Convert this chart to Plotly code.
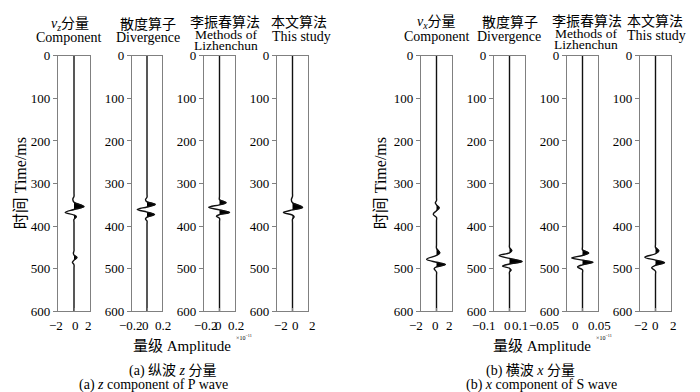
import plotly.graph_objects as go

# ---------------- data ----------------
time_ticks = [0, 100, 200, 300, 400, 500, 600]

# (a) P wave, z component
pz_comp_t = [0, 322, 330, 337, 344, 354, 361, 368, 374, 378, 384, 392, 450, 458, 464, 468, 474, 480, 485, 491, 499, 600]
pz_comp_v = [0, 0, 0, -0.15, 0, 1.25, 0, -1.1, 0, 0.3, 0, 0, 0, 0, -0.08, 0, 0.37, 0, -0.2, 0, 0, 0]

pz_div_t = [0, 324, 332, 338, 343, 349, 355, 361, 367, 373, 379, 383, 388, 396, 600]
pz_div_v = [0, 0, 0, -0.02, 0, 0.11, 0, -0.13, 0, 0.10, 0, -0.02, 0, 0, 0]

pz_li_t = [0, 330, 338, 345, 350, 356, 362, 368, 373, 377, 382, 390, 600]
pz_li_v = [0, 0, 0, 0.086, 0, -0.14, 0, 0.13, 0, -0.04, 0, 0, 0]

pz_this_t = [0, 322, 330, 338, 345, 356, 362, 368, 374, 378, 384, 392, 600]
pz_this_v = [0, 0, 0, -0.15, 0, 1.3, 0, -1.17, 0, 0.2, 0, 0, 0]

# (b) S wave, x component
sx_comp_t = [0, 332, 340, 345, 350, 357, 364, 372, 380, 388, 444, 452, 463, 469, 478, 485, 490, 496, 500, 508, 516, 600]
sx_comp_v = [0, 0, 0, -0.15, 0, 0.35, 0, -0.42, 0, 0, 0, 0, 0.43, 0, -1.28, 0, 1.15, 0, -0.3, 0, 0, 0]

sx_div_t = [0, 442, 450, 458, 463, 469, 476, 483, 489, 494, 499, 503, 508, 516, 600]
sx_div_v = [0, 0, 0, 0.015, 0, -0.067, 0, 0.082, 0, -0.045, 0, 0.01, 0, 0, 0]

sx_li_t = [0, 448, 456, 463, 469, 475, 480, 485, 491, 496, 503, 511, 600]
sx_li_v = [0, 0, 0, 0.02, 0, -0.035, 0, 0.034, 0, -0.016, 0, 0, 0]

sx_this_t = [0, 442, 450, 458, 465, 473, 480, 486, 492, 498, 506, 514, 600]
sx_this_v = [0, 0, 0, 0.43, 0, -1.37, 0, 1.16, 0, -0.5, 0, 0, 0]

# amplitude axis ticks per panel (limits = outer ticks)
amp_ticks = [[-2, 0, 2], [-0.2, 0, 0.2], [-0.2, 0, 0.2], [-2, 0, 2],
             [-2, 0, 2], [-0.1, 0, 0.1], [-0.05, 0, 0.05], [-2, 0, 2]]

series_t = [pz_comp_t, pz_div_t, pz_li_t, pz_this_t, sx_comp_t, sx_div_t, sx_li_t, sx_this_t]
series_v = [pz_comp_v, pz_div_v, pz_li_v, pz_this_v, sx_comp_v, sx_div_v, sx_li_v, sx_this_v]

# ---------------- layout ----------------
W, H = 700, 392
panel_px = [(50, 82), (124, 154), (196, 227), (269, 300),
            (413, 444), (486, 517), (559, 590), (632, 663)]
top_px, bot_px = 42.5, 308
# horizontal nudges of the amplitude tick labels (px), as laid out in the original
label_shift = [[-2.5, 1, -1.5], [-0.5, -1.5, 1], [1.5, -1.5, 0.5], [4, 3, 4],
               [-5, -1, -3], [-10, -2, -5], [-23, -7.5, 1], [0.5, -0.5, 2.5]]

FONT = "Liberation Serif, Noto Sans CJK SC, serif"

def fx(px):
    return px / W

def fy(py):
    return 1 - py / H

def fmt(v):
    s = f"{abs(v):g}"
    return ("\u2212" + s) if v < 0 else s

fig = go.Figure()
layout = {}
ann = []
for i, (t, v) in enumerate(zip(series_t, series_v)):
    n = "" if i == 0 else str(i + 1)
    xa, ya = "x" + n, "y" + n
    # positive lobes (filled black)
    ft, fv = [], []
    for k in range(1, len(v) - 1):
        if v[k] > 0:
            ft += [t[k - 1], t[k], t[k + 1], None]
            fv += [max(v[k - 1], 0), v[k], max(v[k + 1], 0), None]
    fig.add_trace(go.Scatter(x=fv, y=ft, xaxis=xa, yaxis=ya, mode="lines",
                             line=dict(color="black", width=0.5, shape="spline"),
                             fill="tozerox", fillcolor="black",
                             showlegend=False, hoverinfo="skip"))
    fig.add_trace(go.Scatter(x=v, y=t, xaxis=xa, yaxis=ya, mode="lines",
                             line=dict(color="#111111", width=1.4, shape="spline"),
                             showlegend=False))
    ticks = amp_ticks[i]
    x0, x1 = panel_px[i]
    layout["xaxis" + n] = dict(
        domain=[fx(x0), fx(x1)], range=[ticks[0], ticks[-1]], anchor=ya,
        tickvals=ticks, showticklabels=False, ticks="inside", ticklen=3,
        tickcolor="#808080", showline=True, linecolor="#808080", linewidth=1.4,
        mirror=True, showgrid=False, zeroline=False, fixedrange=True)
    layout["yaxis" + n] = dict(
        domain=[fy(bot_px), fy(top_px)], range=[600, 0], anchor=xa,
        tickvals=time_ticks, ticks="outside", ticklen=4, tickcolor="#808080",
        showline=True, linecolor="#808080", linewidth=1.4, mirror=True,
        showgrid=False, zeroline=False,
        tickfont=dict(family=FONT, size=13, color="black"), fixedrange=True)
    for tv, sh in zip(ticks, label_shift[i]):
        ann.append(dict(text=fmt(tv), x=tv, xref=xa, y=fy(323), yref="paper",
                        xshift=sh, showarrow=False, xanchor="center", yanchor="middle",
                        font=dict(family=FONT, size=13, color="black")))

def A(text, x, y, size=14, angle=0, xanchor="center"):
    ann.append(dict(text=text, x=fx(x), y=fy(y), xref="paper", yref="paper",
                    showarrow=False, xanchor=xanchor, yanchor="middle",
                    textangle=angle, font=dict(family=FONT, size=size, color="black")))

# headers (a)
A("<i>v</i><sub><i>z</i></sub>分量", 62, 10)
A("Component", 60, 23)
A("散度算子", 140, 10)
A("Divergence", 140, 23)
A("李振春算法", 217, 8)
A("Methods of", 218, 20, size=13.5)
A("Lizhenchun", 218, 32, size=13.5)
A("本文算法", 291, 8)
A("This study", 293, 22)
# headers (b)
A("<i>v</i><sub><i>x</i></sub>分量", 428, 8)
A("Component", 428, 22)
A("散度算子", 502, 8)
A("Divergence", 501, 22)
A("李振春算法", 579, 7)
A("Methods of", 578, 19, size=13.5)
A("Lizhenchun", 578, 31, size=13.5)
A("本文算法", 647, 7)
A("This study", 648, 21)

# y titles
A("时间 Time/ms", 12, 175, size=16, angle=-90)
A("时间 Time/ms", 372, 175, size=16, angle=-90)

# amplitude labels
A("量级 Amplitude", 174, 344, size=15)
A("×10<sup>−11</sup>", 226, 335, size=6, xanchor="left")
A("量级 Amplitude", 534, 344, size=15)
A("×10<sup>−11</sup>", 586, 335, size=6, xanchor="left")

# captions
A("(a) 纵波 <i>z</i> 分量", 165, 370)
A("(a) <i>z</i> component of P wave", 145, 385)
A("(b) 横波 <i>x</i> 分量", 522, 370)
A("(b) <i>x</i> component of S wave", 533, 385)

fig.update_layout(width=W, height=H, margin=dict(l=0, r=0, t=0, b=0),
                  plot_bgcolor="white", paper_bgcolor="white",
                  annotations=ann, **layout)
fig.write_html("out.html")
